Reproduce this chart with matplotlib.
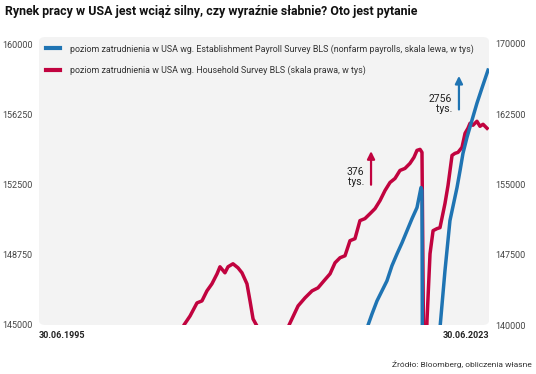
import matplotlib
matplotlib.use("Agg")
import matplotlib.pyplot as plt
from matplotlib import font_manager
from matplotlib.patches import FancyBboxPatch

# pick a narrow font if one is there
names = {f.name for f in font_manager.fontManager.ttflist}
font = 'Liberation Sans Narrow' if 'Liberation Sans Narrow' in names else 'Roboto'
plt.rcParams['font.family'] = [font, 'DejaVu Sans']

# Establishment Payroll Survey (left axis, thousands), x in years
payroll_t = [2015.47, 2015.91, 2016.22, 2016.53, 2016.84, 2017.15, 2017.46, 2017.78,
             2018.09, 2018.40, 2018.71, 2019.02, 2019.27, 2019.33, 2019.39, 2019.83,
             2020.20, 2020.45, 2020.76, 2021.07, 2021.51, 2021.70, 2021.88, 2022.13,
             2022.44, 2022.75, 2023.06, 2023.44]
payroll_v = [143875, 144840, 145590, 146286, 146822, 147357, 148161, 148804,
             149393, 150036, 150679, 151268, 152339, 152179, 130215, 132358,
             139322, 144840, 147893, 150572, 152339, 153250, 154161, 155018,
             155929, 156839, 157643, 158607]

# Household Survey (right axis, thousands)
household_t = [2004.02, 2004.52, 2004.90, 2005.33, 2005.64, 2005.95, 2006.26, 2006.58,
               2006.76, 2007.07, 2007.26, 2007.57, 2007.88, 2008.13, 2008.44, 2008.63,
               2008.82, 2009.06, 2009.38, 2010.18, 2010.81, 2011.06, 2011.62, 2012.05,
               2012.49, 2012.86, 2013.23, 2013.61, 2013.92, 2014.23, 2014.54, 2014.85,
               2015.16, 2015.47, 2015.78, 2016.10, 2016.41, 2016.72, 2017.03, 2017.34,
               2017.65, 2017.96, 2018.27, 2018.58, 2018.83, 2019.02, 2019.21, 2019.33,
               2019.46, 2019.52, 2019.64, 2019.83, 2020.02, 2020.26, 2020.45, 2020.76,
               2020.95, 2021.20, 2021.38, 2021.57, 2021.82, 2022.01, 2022.19, 2022.32,
               2022.50, 2022.75, 2022.94, 2023.13, 2023.38]
household_v = [137751, 140000, 140965, 142358, 142572, 143644, 144394, 145465,
               146215, 145572, 146215, 146536, 146108, 145572, 144394, 142572,
               140644, 139894, 138822, 137751, 138822, 140000, 142036, 142894,
               143644, 143965, 144715, 145465, 146643, 147179, 147393, 149000,
               149215, 151143, 151358, 151893, 152429, 153286, 154358, 155215,
               155643, 156500, 156715, 157250, 157893, 158643, 158750, 158429,
               131858, 131858, 140429, 147608, 150072, 150286, 150393, 152965,
               154893, 158107, 158322, 158429, 158965, 160465, 161000, 161536,
               161322, 161750, 161215, 161429, 161000]

left_ticks = [145000, 148750, 152500, 156250, 160000]
right_ticks = [140000, 147500, 155000, 162500, 170000]
x_range = [1995.5, 2023.5]
x_labels = ['30.06.1995', '30.06.2023']

blue = '#1f74b3'
red = '#c1033f'
txt = '#222222'

fig = plt.figure(figsize=(5.36, 3.74), dpi=100)
ax = fig.add_axes([39 / 536, 1 - 325 / 374, 450 / 536, 288 / 374])
ax2 = ax.twinx()
ax.set_zorder(ax2.get_zorder() + 1)
ax.patch.set_visible(False)
ax2.patch.set_visible(False)

# grey rounded panel behind the plot
bg = FancyBboxPatch((39 / 536, 1 - 325 / 374), 450 / 536, 288 / 374,
                    boxstyle='round,pad=0,rounding_size=0.012',
                    transform=fig.transFigure, facecolor='#f3f3f3',
                    edgecolor='none', zorder=-10)
fig.patches.append(bg)

l1, = ax.plot(payroll_t, payroll_v, color=blue, lw=2.5, solid_joinstyle='round',
              label='poziom zatrudnienia w USA wg. Establishment Payroll Survey BLS (nonfarm payrolls, skala lewa, w tys)')
l2, = ax2.plot(household_t, household_v, color=red, lw=2.5, solid_joinstyle='round',
               label='poziom zatrudnienia w USA wg. Household Survey BLS (skala prawa, w tys)')

ax.set_xlim(x_range)
ax.set_ylim(145000, 160374)
ax2.set_ylim(140000, 170747)
ax.set_yticks(left_ticks)
ax2.set_yticks(right_ticks)
ax.set_yticklabels([str(v) for v in left_ticks])
ax2.set_yticklabels([str(v) for v in right_ticks])
ax.set_xticks(x_range)
ax.set_xticklabels(x_labels, fontweight='bold', fontsize=7.5, color=txt)
for lab, ha in zip(ax.get_xticklabels(), ['left', 'right']):
    lab.set_horizontalalignment(ha)

for a in (ax, ax2):
    for s in a.spines.values():
        s.set_visible(False)
    a.tick_params(length=0, labelsize=6.5, labelcolor='#444444', pad=4.5)
ax.tick_params(axis='x', pad=4, labelcolor=txt)

leg = ax.legend(handles=[l1, l2], loc='upper left', bbox_to_anchor=(0.0, 1.0),
                frameon=False, fontsize=6.4, handlelength=1.6, handletextpad=1.1,
                labelspacing=1.3, borderaxespad=0.4, labelcolor='#333333')
for h in leg.legend_handles:
    h.set_linewidth(3)

# arrows with changes
ax2.annotate('', xy=(2016.16, 158857), xytext=(2016.16, 154679),
             arrowprops=dict(arrowstyle='-|>', color=red, lw=1.6, mutation_scale=11))
ax2.text(2015.75, 155750, '376\ntys.', ha='right', va='center', fontsize=7.5,
         color=txt, linespacing=1.0)
ax.annotate('', xy=(2021.63, 158446), xytext=(2021.63, 156357),
            arrowprops=dict(arrowstyle='-|>', color=blue, lw=1.6, mutation_scale=11))
ax.text(2021.20, 156786, '2756\ntys.', ha='right', va='center', fontsize=7.5,
        color=txt, linespacing=1.0)

fig.text(5 / 536, 1 - 12 / 374, 'Rynek pracy w USA jest wciąż silny, czy wyraźnie słabnie? Oto jest pytanie',
         fontsize=8.9, fontweight='bold', color='#111111', va='center', ha='left')
fig.text(532 / 536, 1 - 364 / 374, 'Źródło: Bloomberg, obliczenia własne',
         fontsize=6.0, color='#333333', va='center', ha='right')

fig.savefig('out.png', dpi=100)
